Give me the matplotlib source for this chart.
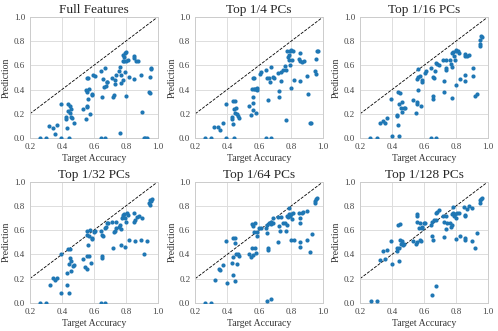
import numpy as np
import matplotlib
matplotlib.use("Agg")
import matplotlib.pyplot as plt
import seaborn as sns

sns.set_theme(style="whitegrid")
plt.rcParams['font.family'] = ['Liberation Serif', 'DejaVu Serif']

titles = ["Full Features", "Top 1/4 PCs", "Top 1/16 PCs",
          "Top 1/32 PCs", "Top 1/64 PCs", "Top 1/128 PCs"]

# Full Features
full_x = [0.263, 0.30, 0.32, 0.346, 0.357, 0.371, 0.392, 0.394, 0.427, 0.427,
          0.434, 0.438, 0.44, 0.444, 0.448, 0.45, 0.455, 0.457, 0.465, 0.476,
          0.53, 0.551, 0.555, 0.551, 0.557, 0.565, 0.561, 0.559, 0.559, 0.572,
          0.578, 0.586, 0.588, 0.597, 0.607, 0.645, 0.645, 0.653, 0.66, 0.67,
          0.672, 0.664, 0.676, 0.68, 0.684, 0.713, 0.722, 0.726, 0.733, 0.735,
          0.741, 0.756, 0.764, 0.766, 0.768, 0.772, 0.78, 0.78, 0.782, 0.787,
          0.789, 0.793, 0.797, 0.799, 0.799, 0.803, 0.814, 0.818, 0.848, 0.853,
          0.852, 0.866, 0.876, 0.897, 0.903, 0.914, 0.922, 0.93, 0.947, 0.95,
          0.952, 0.955, 0.96]
full_y = [0.0, 0.0, 0.10, 0.08, 0.035, 0.105, 0.277, 0.0, 0.17, 0.155,
          0.083, 0.277, 0.224, 0.0, 0.263, 0.208, 0.238, 0.175, 0.163, 0.125,
          0.241, 0.155, 0.266, 0.396, 0.496, 0.496, 0.324, 0.258, 0.382, 0.407,
          0.202, 0.363, 0.355, 0.521, 0.512, 0.55, 0.0, 0.338, 0.488, 0.0,
          0.578, 0.424, 0.432, 0.465, 0.46, 0.499, 0.335, 0.355, 0.446, 0.479,
          0.521, 0.55, 0.59, 0.042, 0.521, 0.457, 0.637, 0.687, 0.479, 0.665,
          0.637, 0.70, 0.543, 0.346, 0.71, 0.637, 0.64, 0.5, 0.673, 0.66,
          0.49, 0.632, 0.637, 0.521, 0.213, 0.0, 0.0, 0.0, 0.382, 0.371,
          0.507, 0.57, 0.58]

# Top 1/4 PCs
q4_x = [0.263, 0.30, 0.32, 0.342, 0.357, 0.371, 0.394, 0.394, 0.427, 0.43,
        0.434, 0.438, 0.442, 0.444, 0.448, 0.455, 0.45, 0.463, 0.467, 0.476,
        0.534, 0.547, 0.559, 0.559, 0.555, 0.559, 0.568, 0.559, 0.565, 0.576,
        0.586, 0.588, 0.58, 0.603, 0.611, 0.643, 0.647, 0.645, 0.653, 0.66,
        0.668, 0.672, 0.676, 0.684, 0.691, 0.716, 0.722, 0.726, 0.735, 0.739,
        0.747, 0.76, 0.766, 0.77, 0.776, 0.78, 0.784, 0.789, 0.791, 0.795,
        0.799, 0.801, 0.803, 0.81, 0.82, 0.853, 0.85, 0.853, 0.855, 0.868,
        0.878, 0.9, 0.903, 0.916, 0.926, 0.947, 0.952, 0.952, 0.962, 0.968]
q4_y = [0.0, 0.0, 0.094, 0.094, 0.064, 0.12, 0.283, 0.0, 0.175, 0.155,
        0.114, 0.307, 0.238, 0.0, 0.305, 0.244, 0.21, 0.197, 0.183, 0.163,
        0.263, 0.188, 0.291, 0.23, 0.404, 0.496, 0.496, 0.34, 0.402, 0.402,
        0.41, 0.396, 0.21, 0.526, 0.543, 0.562, 0.493, 0.0, 0.313, 0.493,
        0.465, 0.0, 0.587, 0.5, 0.493, 0.54, 0.335, 0.39, 0.474, 0.548,
        0.562, 0.596, 0.152, 0.562, 0.715, 0.668, 0.64, 0.687, 0.604, 0.715,
        0.73, 0.41, 0.645, 0.72, 0.479, 0.70, 0.65, 0.632, 0.474, 0.629,
        0.632, 0.512, 0.36, 0.127, 0.127, 0.557, 0.529, 0.65, 0.72, 0.722]

# Top 1/16 PCs
q16_x = [0.263, 0.305, 0.325, 0.346, 0.357, 0.371, 0.394, 0.4, 0.43, 0.432,
         0.436, 0.44, 0.442, 0.446, 0.451, 0.455, 0.46, 0.465, 0.476, 0.484,
         0.534, 0.551, 0.559, 0.559, 0.555, 0.561, 0.572, 0.563, 0.565, 0.58,
         0.586, 0.59, 0.603, 0.611, 0.643, 0.653, 0.645, 0.655, 0.655, 0.664,
         0.668, 0.672, 0.676, 0.684, 0.695, 0.716, 0.722, 0.726, 0.735, 0.739,
         0.739, 0.76, 0.768, 0.772, 0.772, 0.776, 0.784, 0.789, 0.793, 0.797,
         0.801, 0.801, 0.81, 0.82, 0.822, 0.853, 0.857, 0.859, 0.859, 0.868,
         0.881, 0.905, 0.903, 0.916, 0.93, 0.947, 0.95, 0.952, 0.955, 0.962]
q16_y = [0.0, 0.0, 0.12, 0.141, 0.125, 0.163, 0.319, 0.017, 0.194, 0.183,
         0.105, 0.382, 0.28, 0.014, 0.368, 0.244, 0.294, 0.216, 0.244, 0.244,
         0.313, 0.21, 0.3, 0.285, 0.485, 0.568, 0.512, 0.396, 0.507, 0.266,
         0.479, 0.465, 0.54, 0.554, 0.576, 0.5, 0.0, 0.349, 0.321, 0.493,
         0.551, 0.0, 0.62, 0.612, 0.604, 0.645, 0.38, 0.474, 0.576, 0.645,
         0.562, 0.64, 0.612, 0.327, 0.70, 0.59, 0.71, 0.673, 0.64, 0.72,
         0.73, 0.438, 0.72, 0.70, 0.485, 0.673, 0.693, 0.52, 0.474, 0.679,
         0.684, 0.576, 0.512, 0.349, 0.36, 0.778, 0.762, 0.806, 0.845, 0.834]

# Top 1/32 PCs
q32_x = [0.263, 0.30, 0.325, 0.346, 0.357, 0.367, 0.392, 0.396, 0.43, 0.432,
         0.438, 0.442, 0.442, 0.451, 0.451, 0.455, 0.457, 0.467, 0.476, 0.53,
         0.547, 0.559, 0.555, 0.557, 0.561, 0.559, 0.568, 0.572, 0.576, 0.58,
         0.586, 0.588, 0.601, 0.605, 0.643, 0.651, 0.645, 0.651, 0.653, 0.66,
         0.672, 0.672, 0.676, 0.68, 0.689, 0.716, 0.718, 0.726, 0.731, 0.739,
         0.739, 0.76, 0.764, 0.768, 0.772, 0.776, 0.78, 0.784, 0.789, 0.793,
         0.797, 0.801, 0.805, 0.814, 0.818, 0.853, 0.853, 0.855, 0.859, 0.868,
         0.881, 0.9, 0.897, 0.916, 0.93, 0.947, 0.952, 0.95, 0.962, 0.955]
q32_y = [0.0, 0.0, 0.151, 0.205, 0.192, 0.205, 0.405, 0.082, 0.247, 0.145,
         0.444, 0.323, 0.082, 0.37, 0.444, 0.342, 0.26, 0.307, 0.315, 0.364,
         0.296, 0.279, 0.562, 0.595, 0.479, 0.384, 0.548, 0.384, 0.603, 0.329,
         0.526, 0.534, 0.581, 0.597, 0.597, 0.562, 0.0, 0.37, 0.384, 0.553,
         0.0, 0.616, 0.63, 0.663, 0.658, 0.671, 0.452, 0.581, 0.597, 0.616,
         0.671, 0.63, 0.644, 0.479, 0.608, 0.699, 0.726, 0.712, 0.734, 0.699,
         0.458, 0.671, 0.74, 0.726, 0.515, 0.74, 0.671, 0.507, 0.685, 0.712,
         0.718, 0.699, 0.515, 0.403, 0.512, 0.827, 0.849, 0.808, 0.855, 0.84]

# Top 1/64 PCs
q64_x = [0.263, 0.30, 0.325, 0.346, 0.357, 0.371, 0.392, 0.398, 0.43, 0.434,
         0.438, 0.438, 0.446, 0.451, 0.451, 0.455, 0.46, 0.467, 0.476, 0.534,
         0.549, 0.559, 0.555, 0.557, 0.563, 0.568, 0.572, 0.576, 0.58, 0.586,
         0.588, 0.601, 0.609, 0.643, 0.651, 0.651, 0.655, 0.655, 0.647, 0.672,
         0.664, 0.672, 0.676, 0.684, 0.689, 0.716, 0.718, 0.726, 0.733, 0.739,
         0.747, 0.764, 0.768, 0.772, 0.776, 0.78, 0.784, 0.789, 0.793, 0.797,
         0.801, 0.805, 0.814, 0.818, 0.849, 0.853, 0.853, 0.857, 0.857, 0.868,
         0.876, 0.901, 0.9, 0.918, 0.93, 0.947, 0.95, 0.955, 0.964]
q64_y = [0.0, 0.0, 0.192, 0.279, 0.268, 0.315, 0.507, 0.164, 0.329, 0.233,
         0.378, 0.534, 0.178, 0.534, 0.493, 0.405, 0.32, 0.405, 0.389, 0.405,
         0.378, 0.397, 0.452, 0.649, 0.636, 0.581, 0.452, 0.663, 0.411, 0.581,
         0.553, 0.616, 0.622, 0.616, 0.644, 0.575, 0.452, 0.433, 0.019, 0.033,
         0.658, 0.671, 0.649, 0.704, 0.658, 0.707, 0.499, 0.636, 0.597, 0.707,
         0.658, 0.663, 0.597, 0.644, 0.718, 0.707, 0.781, 0.734, 0.718, 0.521,
         0.734, 0.69, 0.74, 0.515, 0.745, 0.699, 0.658, 0.499, 0.462, 0.74,
         0.753, 0.762, 0.521, 0.416, 0.567, 0.838, 0.827, 0.855, 0.863]

# Top 1/128 PCs
q128_x = [0.267, 0.305, 0.325, 0.346, 0.357, 0.371, 0.394, 0.398, 0.43, 0.434,
          0.438, 0.442, 0.446, 0.451, 0.451, 0.455, 0.46, 0.467, 0.476, 0.534,
          0.547, 0.559, 0.555, 0.559, 0.559, 0.568, 0.572, 0.576, 0.58, 0.586,
          0.588, 0.601, 0.609, 0.643, 0.649, 0.651, 0.655, 0.649, 0.672, 0.664,
          0.672, 0.672, 0.68, 0.693, 0.716, 0.722, 0.726, 0.735, 0.739, 0.743,
          0.764, 0.768, 0.772, 0.776, 0.78, 0.784, 0.789, 0.793, 0.797, 0.801,
          0.805, 0.816, 0.822, 0.849, 0.853, 0.857, 0.857, 0.857, 0.868, 0.881,
          0.901, 0.901, 0.92, 0.934, 0.947, 0.952, 0.955, 0.964]
q128_y = [0.014, 0.019, 0.351, 0.430, 0.364, 0.438, 0.507, 0.321, 0.452, 0.425,
          0.644, 0.452, 0.342, 0.649, 0.521, 0.488, 0.507, 0.479, 0.488, 0.507,
          0.488, 0.499, 0.718, 0.734, 0.671, 0.616, 0.663, 0.521, 0.507, 0.63,
          0.616, 0.663, 0.658, 0.644, 0.671, 0.548, 0.521, 0.068, 0.142, 0.685,
          0.685, 0.74, 0.753, 0.767, 0.718, 0.542, 0.671, 0.608, 0.718, 0.663,
          0.658, 0.63, 0.644, 0.734, 0.745, 0.795, 0.718, 0.734, 0.526, 0.699,
          0.74, 0.745, 0.548, 0.795, 0.718, 0.726, 0.534, 0.521, 0.773, 0.8,
          0.781, 0.507, 0.452, 0.575, 0.849, 0.827, 0.855, 0.863]

xs = [full_x, q4_x, q16_x, q32_x, q64_x, q128_x]
ys = [full_y, q4_y, q16_y, q32_y, q64_y, q128_y]

fig = plt.figure(figsize=(4.98, 3.31), dpi=100)
lefts = [0.060, 0.392, 0.723]
bottoms = [0.583, 0.085]
w, h = 0.257, 0.366

for i in range(6):
    ax = fig.add_axes([lefts[i % 3], bottoms[i // 3], w, h])
    ax.plot([0.2, 1.0], [0.2, 1.0], linestyle='--', color='black', lw=0.6, zorder=2)
    ax.scatter(xs[i], ys[i], s=9, color='#1f77b4', linewidths=0, zorder=3)
    ax.set_xlim(0.2, 1.0)
    ax.set_ylim(0.0, 1.0)
    ax.set_xticks([0.2, 0.4, 0.6, 0.8, 1.0])
    ax.set_yticks([0.0, 0.2, 0.4, 0.6, 0.8, 1.0])
    ax.tick_params(labelsize=6.5, length=0, pad=3.5, colors='#444444')
    ax.set_title(titles[i], fontsize=9.5, pad=3)
    ax.set_xlabel("Target Accuracy", fontsize=7, labelpad=2.5, color='#333333')
    ax.set_ylabel("Prediction", fontsize=7, labelpad=2, color='#333333')
    ax.grid(True, color='#dddddd', lw=0.7)
    for s in ax.spines.values():
        s.set_color('#cccccc')
        s.set_linewidth(0.7)

fig.savefig("out.png", dpi=100)
